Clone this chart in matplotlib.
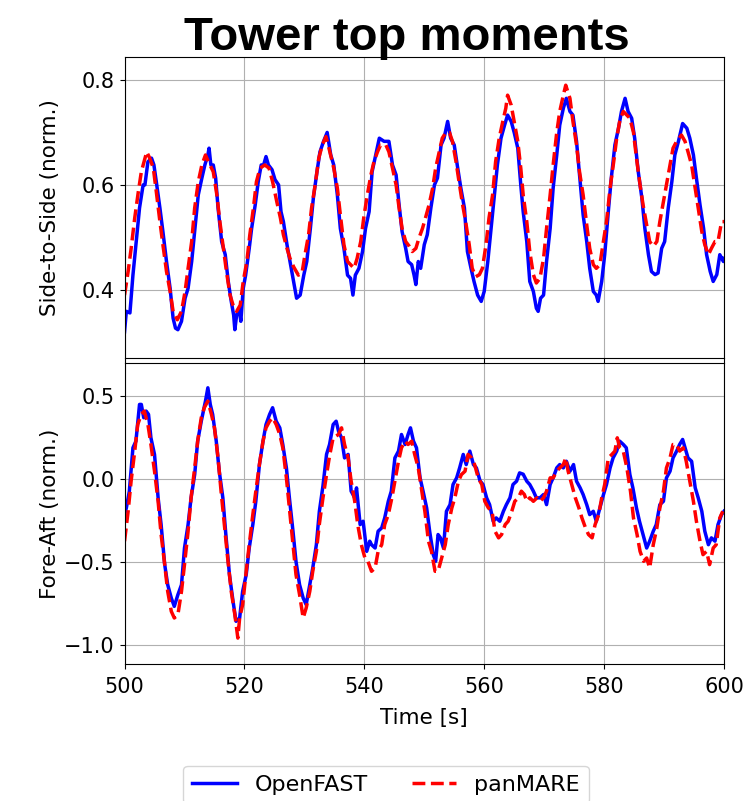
import matplotlib
matplotlib.use("Agg")
import matplotlib.pyplot as plt

# ----------------------------
# Data
# ----------------------------
# Side-to-side moment, OpenFAST
t_of_ss = [500.0, 500.3, 500.9, 501.4, 502.0, 502.5, 503.1, 503.4, 503.9, 504.5, 504.9, 505.3, 505.9, 506.4,
           507.0, 507.6, 508.1, 508.5, 508.9, 509.5, 510.1, 510.6, 511.2, 511.7, 512.3, 512.9, 513.4, 513.9,
           514.1, 514.4, 514.8, 515.2, 515.6, 516.2, 516.8, 517.3, 517.8, 518.2, 518.4, 518.7, 519.1, 519.4,
           519.8, 520.2, 520.8, 521.2, 521.8, 522.3, 522.8, 523.2, 523.6, 524.0, 524.6, 525.1, 525.7, 526.1,
           526.5, 527.1, 527.6, 528.2, 528.7, 529.3, 529.9, 530.4, 531.0, 531.5, 532.1, 532.6, 533.2, 533.8,
           534.4, 534.9, 535.5, 536.0, 536.6, 537.2, 537.7, 538.1, 538.5, 539.1, 539.7, 540.2, 540.8, 541.3,
           541.9, 542.5, 543.3, 544.1, 544.7, 545.3, 545.8, 546.3, 546.9, 547.3, 547.9, 548.3, 548.6, 549.0,
           549.4, 550.0, 550.5, 551.1, 551.7, 552.2, 552.8, 553.3, 553.9, 554.4, 555.0, 555.5, 556.1, 556.7,
           557.2, 557.8, 558.3, 558.9, 559.5, 560.0, 560.6, 561.1, 561.7, 562.2, 562.8, 563.4, 563.9, 564.5,
           565.0, 565.6, 566.1, 566.5, 567.1, 567.6, 568.2, 568.7, 569.0, 569.4, 569.9, 570.4, 571.0, 571.5,
           572.1, 572.6, 573.2, 573.7, 574.3, 574.8, 575.4, 575.9, 576.5, 577.1, 577.6, 578.2, 578.7, 579.0,
           579.6, 580.1, 580.7, 581.2, 581.8, 582.4, 582.9, 583.5, 584.0, 584.6, 585.1, 585.7, 586.3, 586.8,
           587.4, 587.9, 588.5, 589.0, 589.6, 590.1, 590.7, 591.3, 591.8, 592.4, 593.1, 593.8, 594.3, 594.9,
           595.4, 596.0, 596.6, 597.1, 597.7, 598.2, 598.8, 599.3, 599.9, 600.0]
of_ss = [0.320, 0.359, 0.356, 0.428, 0.498, 0.556, 0.600, 0.600, 0.644, 0.651, 0.638, 0.606, 0.556, 0.511,
         0.454, 0.403, 0.346, 0.327, 0.324, 0.340, 0.384, 0.403, 0.454, 0.511, 0.581, 0.613, 0.638, 0.657,
         0.670, 0.638, 0.638, 0.613, 0.556, 0.492, 0.467, 0.416, 0.378, 0.352, 0.324, 0.352, 0.365, 0.340,
         0.403, 0.428, 0.479, 0.517, 0.562, 0.606, 0.638, 0.638, 0.654, 0.638, 0.629, 0.610, 0.600, 0.549,
         0.530, 0.486, 0.454, 0.416, 0.384, 0.390, 0.428, 0.454, 0.517, 0.575, 0.625, 0.663, 0.683, 0.700,
         0.657, 0.638, 0.581, 0.517, 0.479, 0.428, 0.422, 0.390, 0.428, 0.441, 0.473, 0.517, 0.549, 0.625,
         0.657, 0.689, 0.683, 0.683, 0.638, 0.619, 0.562, 0.511, 0.479, 0.454, 0.448, 0.428, 0.410, 0.454,
         0.441, 0.486, 0.505, 0.556, 0.600, 0.613, 0.676, 0.689, 0.721, 0.689, 0.676, 0.638, 0.594, 0.556,
         0.473, 0.441, 0.416, 0.390, 0.378, 0.397, 0.454, 0.511, 0.581, 0.638, 0.689, 0.714, 0.733, 0.721,
         0.700, 0.670, 0.600, 0.549, 0.492, 0.416, 0.397, 0.365, 0.359, 0.384, 0.390, 0.454, 0.517, 0.594,
         0.657, 0.714, 0.746, 0.765, 0.740, 0.733, 0.683, 0.619, 0.543, 0.492, 0.441, 0.397, 0.390, 0.378,
         0.416, 0.467, 0.549, 0.613, 0.676, 0.708, 0.740, 0.765, 0.740, 0.727, 0.689, 0.625, 0.575, 0.517,
         0.467, 0.435, 0.429, 0.432, 0.479, 0.492, 0.556, 0.606, 0.657, 0.683, 0.717, 0.708, 0.689, 0.657,
         0.613, 0.562, 0.517, 0.467, 0.435, 0.416, 0.429, 0.467, 0.454, 0.460]

# Side-to-side moment, panMARE
t_pm_ss = [500.0, 500.6, 501.1, 501.7, 502.3, 502.8, 503.7, 504.2, 504.8, 505.3, 505.9, 506.4, 507.0, 507.6,
           508.1, 508.8, 509.5, 510.1, 510.6, 511.2, 511.7, 512.3, 512.9, 513.5, 514.0, 514.8, 515.4, 515.9,
           516.5, 517.0, 517.6, 518.1, 518.7, 519.3, 519.8, 520.4, 520.9, 521.5, 522.0, 522.6, 523.4, 524.1,
           524.7, 525.4, 526.0, 526.5, 527.1, 527.6, 528.2, 529.0, 529.6, 530.1, 530.7, 531.2, 531.8, 532.4,
           533.0, 533.6, 534.1, 534.9, 535.5, 536.0, 536.6, 537.2, 537.7, 538.3, 538.8, 539.4, 539.9, 540.5,
           541.1, 541.6, 542.2, 542.7, 543.6, 544.1, 544.7, 545.3, 545.8, 546.3, 546.9, 547.5, 548.0, 548.6,
           549.1, 549.7, 550.2, 550.8, 551.4, 551.9, 552.5, 553.0, 553.6, 554.2, 554.7, 555.3, 555.8, 556.4,
           556.9, 557.5, 558.0, 558.6, 559.2, 559.7, 560.3, 560.8, 561.4, 561.9, 562.5, 563.1, 563.6, 563.9,
           564.5, 565.0, 565.6, 566.1, 566.5, 567.1, 567.6, 568.2, 568.7, 569.3, 569.9, 570.4, 571.0, 571.5,
           572.1, 572.6, 573.2, 573.6, 574.3, 574.8, 575.4, 575.9, 576.5, 577.1, 577.6, 578.2, 578.7, 579.3,
           579.8, 580.4, 581.0, 581.6, 582.1, 582.6, 583.2, 583.8, 584.3, 584.9, 585.4, 586.0, 586.5, 587.1,
           587.6, 588.2, 588.8, 589.3, 589.9, 590.4, 591.0, 591.5, 592.1, 592.9, 593.5, 594.0, 594.6, 595.2,
           595.7, 596.3, 596.8, 597.4, 597.9, 598.5, 599.0, 599.6, 600.0]
pm_ss = [0.390, 0.435, 0.479, 0.537, 0.587, 0.625, 0.663, 0.651, 0.632, 0.587, 0.530, 0.486, 0.435, 0.397,
         0.359, 0.343, 0.359, 0.397, 0.441, 0.492, 0.556, 0.606, 0.638, 0.657, 0.644, 0.625, 0.581, 0.530,
         0.479, 0.435, 0.390, 0.371, 0.359, 0.371, 0.416, 0.454, 0.505, 0.556, 0.606, 0.632, 0.638, 0.632,
         0.606, 0.568, 0.537, 0.505, 0.479, 0.460, 0.444, 0.428, 0.432, 0.467, 0.505, 0.556, 0.600, 0.651,
         0.676, 0.692, 0.670, 0.632, 0.594, 0.543, 0.486, 0.454, 0.448, 0.441, 0.460, 0.492, 0.537, 0.581,
         0.619, 0.644, 0.663, 0.676, 0.676, 0.663, 0.632, 0.600, 0.556, 0.517, 0.492, 0.483, 0.473, 0.479,
         0.498, 0.517, 0.537, 0.562, 0.594, 0.632, 0.663, 0.689, 0.700, 0.700, 0.683, 0.644, 0.606, 0.562,
         0.530, 0.486, 0.441, 0.425, 0.429, 0.441, 0.486, 0.537, 0.581, 0.644, 0.689, 0.721, 0.746, 0.771,
         0.752, 0.721, 0.683, 0.632, 0.581, 0.530, 0.473, 0.429, 0.413, 0.422, 0.460, 0.517, 0.581, 0.638,
         0.700, 0.740, 0.771, 0.790, 0.765, 0.721, 0.676, 0.625, 0.581, 0.524, 0.479, 0.448, 0.441, 0.448,
         0.486, 0.530, 0.594, 0.644, 0.689, 0.721, 0.740, 0.733, 0.727, 0.700, 0.651, 0.600, 0.562, 0.524,
         0.492, 0.483, 0.492, 0.530, 0.568, 0.600, 0.638, 0.670, 0.683, 0.695, 0.683, 0.663, 0.638, 0.594,
         0.556, 0.511, 0.486, 0.467, 0.479, 0.492, 0.492, 0.530, 0.530]

# Fore-aft moment, OpenFAST
t_of_fa = [500.0, 500.3, 500.8, 501.4, 501.9, 502.5, 502.8, 503.2, 503.6, 504.0, 504.4, 505.0, 505.6, 506.1,
           506.7, 507.2, 507.8, 508.3, 508.9, 509.5, 510.0, 510.6, 511.1, 511.7, 512.2, 512.8, 513.5, 513.9,
           514.3, 514.7, 515.3, 515.8, 516.4, 516.9, 517.5, 518.1, 518.6, 519.2, 519.7, 520.3, 520.8, 521.4,
           521.9, 522.5, 523.1, 523.6, 524.2, 524.7, 525.3, 525.9, 526.4, 527.0, 527.5, 528.1, 528.6, 529.2,
           529.8, 530.3, 530.9, 531.4, 532.0, 532.5, 533.1, 533.7, 534.2, 534.8, 535.3, 535.7, 536.2, 536.7,
           537.3, 537.8, 538.4, 538.7, 539.3, 539.8, 540.4, 540.9, 541.2, 541.8, 542.3, 542.9, 543.4, 544.0,
           544.5, 545.1, 545.7, 546.2, 546.8, 547.3, 547.7, 548.2, 548.7, 549.3, 549.8, 550.4, 550.9, 551.5,
           551.9, 552.3, 552.7, 553.2, 553.7, 554.3, 554.8, 555.4, 555.9, 556.5, 557.0, 557.6, 558.2, 558.7,
           559.3, 559.8, 560.4, 560.9, 561.5, 562.0, 562.6, 563.2, 563.7, 564.3, 564.8, 565.4, 565.9, 566.5,
           567.1, 567.6, 568.2, 568.7, 569.3, 569.9, 570.4, 571.0, 571.5, 572.1, 572.6, 573.2, 573.7, 574.3,
           574.9, 575.4, 576.0, 576.5, 577.1, 577.6, 578.2, 578.7, 579.3, 579.9, 580.4, 581.0, 581.5, 582.1,
           582.6, 583.2, 583.7, 584.3, 584.8, 585.4, 585.9, 586.5, 587.1, 587.6, 588.2, 588.7, 589.3, 589.9,
           590.4, 591.0, 591.5, 592.1, 592.6, 593.1, 593.5, 594.0, 594.6, 595.2, 595.7, 596.3, 596.8, 597.4,
           597.9, 598.5, 599.0, 599.6, 600.0]
of_fa = [-0.213, -0.173, -0.072, 0.189, 0.229, 0.450, 0.450, 0.370, 0.410, 0.390, 0.249, 0.149, -0.112, -0.273,
         -0.514, -0.635, -0.715, -0.765, -0.695, -0.635, -0.414, -0.273, -0.112, 0.028, 0.229, 0.349, 0.470, 0.550,
         0.450, 0.390, 0.229, 0.048, -0.112, -0.333, -0.574, -0.735, -0.855, -0.835, -0.675, -0.574, -0.414, -0.273,
         -0.133, 0.088, 0.229, 0.329, 0.390, 0.430, 0.349, 0.309, 0.209, 0.068, -0.112, -0.313, -0.494, -0.635,
         -0.715, -0.755, -0.635, -0.534, -0.394, -0.193, -0.040, 0.150, 0.209, 0.329, 0.349, 0.289, 0.249, 0.128,
         0.149, -0.072, -0.112, -0.052, -0.273, -0.253, -0.434, -0.373, -0.394, -0.414, -0.313, -0.293, -0.233, -0.133,
         -0.072, 0.128, 0.169, 0.269, 0.209, 0.269, 0.309, 0.229, 0.189, 0.008, -0.072, -0.173, -0.313, -0.454,
         -0.494, -0.333, -0.353, -0.414, -0.193, -0.153, -0.032, 0.008, 0.068, 0.149, 0.088, 0.169, 0.088, 0.068,
         -0.010, -0.032, -0.112, -0.153, -0.253, -0.233, -0.253, -0.193, -0.153, -0.112, -0.032, -0.012, 0.038, 0.030,
         -0.012, -0.032, -0.072, -0.112, -0.112, -0.092, -0.153, -0.032, 0.008, 0.068, 0.088, 0.068, 0.108, 0.048,
         0.088, -0.012, -0.052, -0.092, -0.153, -0.213, -0.193, -0.253, -0.173, -0.092, -0.032, 0.068, 0.128, 0.169,
         0.229, 0.209, 0.189, 0.028, -0.052, -0.173, -0.253, -0.333, -0.414, -0.373, -0.313, -0.273, -0.153, -0.133,
         0.008, 0.048, 0.128, 0.169, 0.209, 0.239, 0.189, 0.128, 0.108, -0.052, -0.112, -0.193, -0.313, -0.394,
         -0.353, -0.373, -0.273, -0.213, -0.193]

# Fore-aft moment, panMARE
t_pm_fa = [500.0, 500.6, 501.1, 501.7, 502.2, 502.8, 503.3, 503.9, 504.4, 505.0, 505.6, 506.1, 506.7, 507.2,
           507.8, 508.3, 508.9, 509.5, 510.0, 510.6, 511.1, 511.7, 512.2, 512.8, 513.3, 513.9, 514.5, 515.0,
           515.6, 516.1, 516.7, 517.2, 517.8, 518.4, 518.9, 519.2, 519.7, 520.3, 520.8, 521.4, 521.9, 522.5,
           523.1, 523.6, 524.2, 524.7, 525.3, 525.9, 526.4, 527.0, 527.5, 528.1, 528.6, 529.2, 529.8, 530.3,
           530.9, 531.4, 532.0, 532.5, 533.1, 533.7, 534.2, 534.8, 535.3, 535.7, 536.2, 536.7, 537.3, 537.8,
           538.4, 538.9, 539.5, 540.1, 540.6, 541.2, 541.8, 542.3, 542.9, 543.4, 544.0, 544.6, 545.1, 545.7,
           546.2, 546.8, 547.3, 547.9, 548.4, 549.0, 549.6, 550.1, 550.7, 551.2, 551.8, 552.3, 552.9, 553.5,
           554.0, 554.6, 555.1, 555.7, 556.2, 556.8, 557.3, 557.9, 558.4, 559.0, 559.6, 560.1, 560.7, 561.3,
           561.8, 562.4, 562.9, 563.5, 564.0, 564.6, 565.1, 565.7, 566.2, 566.7, 567.1, 567.6, 568.2, 568.8,
           569.3, 569.9, 570.4, 571.0, 571.5, 572.1, 572.6, 573.2, 573.6, 574.0, 574.6, 575.2, 575.8, 576.3,
           576.9, 577.4, 578.0, 578.5, 579.1, 579.6, 580.1, 580.7, 581.3, 581.8, 582.2, 582.6, 583.2, 583.8,
           584.4, 584.9, 585.5, 586.0, 586.6, 587.1, 587.6, 588.2, 588.8, 589.3, 589.9, 590.4, 591.0, 591.5,
           592.1, 592.6, 593.2, 593.7, 594.3, 594.9, 595.4, 596.0, 596.5, 597.1, 597.6, 598.2, 598.7, 599.3,
           599.8]
pm_fa = [-0.373, -0.193, -0.010, 0.169, 0.329, 0.390, 0.410, 0.329, 0.209, 0.048, -0.133, -0.333, -0.514, -0.675,
         -0.795, -0.835, -0.815, -0.675, -0.514, -0.313, -0.112, 0.068, 0.229, 0.370, 0.430, 0.470, 0.390, 0.309,
         0.128, -0.072, -0.293, -0.474, -0.675, -0.815, -0.956, -0.835, -0.755, -0.554, -0.394, -0.213, -0.072, 0.088,
         0.229, 0.309, 0.349, 0.370, 0.329, 0.269, 0.189, 0.008, -0.173, -0.394, -0.574, -0.695, -0.835, -0.775,
         -0.675, -0.554, -0.434, -0.270, -0.112, 0.028, 0.140, 0.249, 0.260, 0.269, 0.309, 0.209, 0.128, -0.012,
         -0.133, -0.273, -0.394, -0.474, -0.494, -0.554, -0.534, -0.434, -0.394, -0.273, -0.213, -0.112, -0.012, 0.108,
         0.189, 0.229, 0.209, 0.229, 0.149, 0.068, -0.072, -0.193, -0.373, -0.434, -0.554, -0.554, -0.474, -0.394,
         -0.273, -0.173, -0.112, -0.012, 0.028, 0.048, 0.149, 0.128, 0.088, 0.008, -0.032, -0.133, -0.173, -0.193,
         -0.313, -0.353, -0.333, -0.273, -0.253, -0.193, -0.133, -0.112, -0.072, -0.092, -0.133, -0.112, -0.133, -0.112,
         -0.133, -0.112, -0.072, 0.008, 0.008, 0.048, 0.068, 0.088, 0.128, 0.048, -0.032, -0.112, -0.173, -0.233,
         -0.293, -0.333, -0.353, -0.273, -0.213, -0.112, -0.032, 0.128, 0.149, 0.169, 0.249, 0.189, 0.169, 0.068,
         -0.072, -0.233, -0.333, -0.434, -0.494, -0.474, -0.534, -0.394, -0.293, -0.173, -0.072, 0.068, 0.128, 0.209,
         0.209, 0.169, 0.189, 0.108, -0.012, -0.133, -0.253, -0.373, -0.454, -0.434, -0.514, -0.414, -0.394, -0.233,
         -0.193]

x_ticks = [500, 520, 540, 560, 580, 600]

# ----------------------------
# Figure
# ----------------------------
fig = plt.figure(figsize=(7.48, 8.01), dpi=100)
ax1 = fig.add_axes([0.1665, 0.553, 0.8014, 0.376])
ax2 = fig.add_axes([0.1665, 0.171, 0.8014, 0.376], sharex=ax1)

ax1.plot(t_of_ss, of_ss, color="b", lw=2.5, label="OpenFAST")
ax1.plot(t_pm_ss, pm_ss, color="r", lw=2.5, ls="--", label="panMARE")
ax2.plot(t_of_fa, of_fa, color="b", lw=2.5)
ax2.plot(t_pm_fa, pm_fa, color="r", lw=2.5, ls="--")

ax1.set_xlim(500, 600)
ax1.set_ylim(0.270, 0.844)
ax2.set_ylim(-1.112, 0.70)
ax1.set_yticks([0.4, 0.6, 0.8])
ax2.set_yticks([-1.0, -0.5, 0.0, 0.5])
ax2.set_xticks(x_ticks)

for ax in (ax1, ax2):
    ax.grid(True)
    ax.tick_params(labelsize=15)
ax1.tick_params(labelbottom=False)
ax2.tick_params(axis="x", pad=5.5)

ax1.set_ylabel("Side-to-Side (norm.)", fontsize=15.5)
ax2.set_ylabel("Fore-Aft (norm.)", fontsize=15.5)
ax2.set_xlabel("Time [s]", fontsize=15.5, labelpad=8.5)
ax1.yaxis.set_label_coords(-0.108, 0.5)
ax2.yaxis.set_label_coords(-0.108, 0.5)

fig.text(407 / 748, 1 - 50 / 801, "Tower top moments", family="Liberation Sans",
         weight="bold", fontsize=34, ha="center", va="baseline")

fig.legend(loc="upper center", bbox_to_anchor=(386 / 748, 1 - 766 / 801), ncol=2,
           fontsize=16, borderaxespad=0)

fig.savefig("out.png", dpi=100)
